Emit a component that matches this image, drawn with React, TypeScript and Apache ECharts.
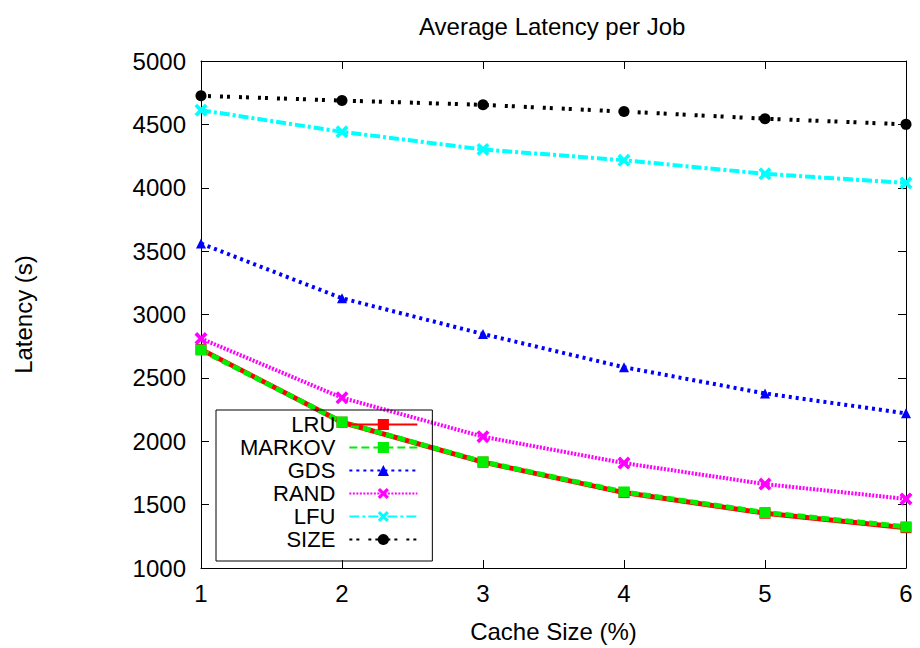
import React, { useEffect, useRef } from "react";
import * as echarts from "echarts";

const cacheSizes = [1, 2, 3, 4, 5, 6];
const seriesNames = ["LRU", "MARKOV", "GDS", "RAND", "LFU", "SIZE"];
const lruValues = [2725, 2150, 1835, 1595, 1432, 1318];
const markovValues = [2720, 2152, 1838, 1600, 1438, 1325];
const gdsValues = [3560, 3128, 2846, 2584, 2377, 2220];
const randValues = [2810, 2343, 2036, 1828, 1662, 1545];
const lfuValues = [4612, 4441, 4302, 4217, 4110, 4038];
const sizeValues = [4725, 4688, 4654, 4601, 4545, 4500];

const FONT = "'Liberation Sans', Arial, sans-serif";
const XSYM = "path://M0,2 L2,0 L5,3 L8,0 L10,2 L7,5 L10,8 L8,10 L5,7 L2,10 L0,8 L3,5 Z";

export default function App() {
  const ref = useRef<HTMLDivElement>(null);
  useEffect(() => {
    if (!ref.current) return;
    const chart = echarts.init(ref.current, undefined, { renderer: "svg" });
    const valuesList = [lruValues, markovValues, gdsValues, randValues, lfuValues, sizeValues];
    const styles = [
      { color: "#ff0000", width: 5, type: "solid", symbol: "rect", size: 11 },
      { color: "#00ee00", width: 5, type: [8, 4], symbol: "rect", size: 11 },
      { color: "#0000ff", width: 4, type: [3, 4], symbol: "triangle", size: 10 },
      { color: "#ff00ff", width: 4, type: [2, 1.5], symbol: XSYM, size: 13 },
      { color: "#00ffff", width: 4, type: [10, 3, 3, 3], symbol: XSYM, size: 13 },
      { color: "#000000", width: 4, type: [3, 4, 3, 9], symbol: "circle", size: 11 },
    ];
    const series = seriesNames.map((name, i) => ({
      name,
      type: "line",
      xAxisIndex: 0,
      yAxisIndex: 0,
      data: cacheSizes.map((x, j) => [x, valuesList[i][j]]),
      symbol: styles[i].symbol,
      symbolSize: styles[i].size,
      showAllSymbol: true,
      lineStyle: { color: styles[i].color, width: styles[i].width, type: styles[i].type },
      itemStyle: { color: styles[i].color },
      emphasis: { disabled: true },
    }));
    const axisCommon = {
      axisLine: { show: true, lineStyle: { color: "#000", width: 1 } },
      axisTick: { show: true, inside: true, length: 8, lineStyle: { color: "#000" } },
      splitLine: { show: false },
    };
    chart.setOption({
      animation: false,
      backgroundColor: "#fff",
      title: {
        text: "Average Latency per Job",
        left: 414,
        top: 9,
        textStyle: { fontFamily: FONT, fontSize: 24, fontWeight: "normal", color: "#000" },
      },
      grid: { left: 201, right: 14, top: 61, bottom: 80 },
      legend: {
        orient: "vertical",
        left: 216,
        top: 410,
        align: "right",
        itemWidth: 68,
        itemHeight: 14,
        itemGap: 0,
        padding: [3, 14, 10, 24],
        borderColor: "#000",
        borderWidth: 1,
        selectedMode: false,
        data: seriesNames,
        textStyle: { fontFamily: FONT, fontSize: 22, color: "#000", lineHeight: 23, padding: [0, 9, 0, 0] },
      },
      xAxis: [
        {
          type: "value",
          min: 1,
          max: 6,
          interval: 1,
          position: "bottom",
          name: "Cache Size (%)",
          nameLocation: "middle",
          nameGap: 51,
          nameTextStyle: { fontFamily: FONT, fontSize: 24, color: "#000" },
          axisLabel: { fontFamily: FONT, fontSize: 24, color: "#000", margin: 13 },
          ...axisCommon,
        },
        {
          type: "value",
          min: 1,
          max: 6,
          interval: 1,
          position: "top",
          axisLabel: { show: false },
          ...axisCommon,
        },
      ],
      yAxis: [
        {
          type: "value",
          min: 1000,
          max: 5000,
          interval: 500,
          position: "left",
          name: "Latency (s)",
          nameLocation: "middle",
          nameGap: 166,
          nameTextStyle: { fontFamily: FONT, fontSize: 24, color: "#000" },
          axisLabel: {
            fontFamily: FONT,
            fontSize: 24,
            color: "#000",
            margin: 15,
            formatter: (v: number) => String(v),
          },
          ...axisCommon,
        },
        {
          type: "value",
          min: 1000,
          max: 5000,
          interval: 500,
          position: "right",
          axisLabel: { show: false },
          ...axisCommon,
        },
      ],
      series,
    });
    return () => chart.dispose();
  }, []);
  return (
    <div
      ref={ref}
      style={{ position: "fixed", left: 0, top: 0, width: 920, height: 648 }}
    />
  );
}
